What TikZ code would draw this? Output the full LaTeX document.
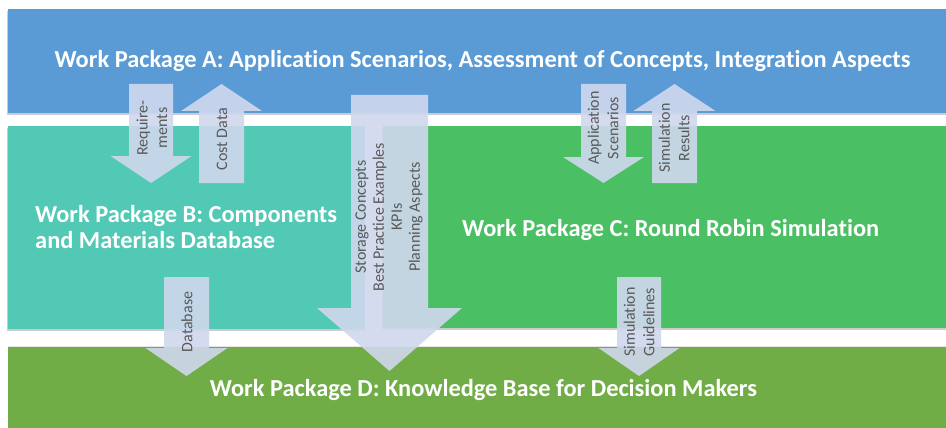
\documentclass[tikz,border=0pt]{standalone}
\usepackage{fontspec}
\setmainfont[Ligatures=NoCommon]{Carlito}
\definecolor{cA}{RGB}{91,155,213}
\definecolor{cB}{RGB}{82,201,181}
\definecolor{cC}{RGB}{75,191,99}
\definecolor{cD}{RGB}{112,173,71}
\definecolor{arrfill}{RGB}{208,216,238}
\definecolor{labgray}{RGB}{89,89,89}
\newcommand\wpblockarrow[6]{\fill[blockarr] ({#1-#5},#2) -- ({#1+#5},#2) -- ({#1+#5},#3) -- ({#1+#6},#3) -- (#1,#4) -- ({#1-#6},#3) -- ({#1-#5},#3) -- cycle;}
\begin{document}
\begin{tikzpicture}[x=1pt,y=-1pt]
\tikzset{
 band/.style={draw=none, inner sep=0pt, outer sep=0pt, anchor=north west},
 bandshadow/.style={fill=black!20},
 blockarr/.style={fill=arrfill, fill opacity=0.9, draw=none},
 wptext/.style={text=white, font=\bfseries\fontsize{24.4}{26}\selectfont, inner sep=0pt},
 arrlabel/.style={text=labgray, font=\fontsize{16}{19.5}\selectfont, rotate=90, align=center, inner sep=0pt},
}
\useasboundingbox (0,0) rectangle (946,428);
\fill[white] (0,0) rectangle (946,428);
% shadows
\fill[bandshadow] (7,11) rectangle (946,115.5);
\fill[bandshadow] (7,128) rectangle (365,330.5);
\fill[bandshadow] (382,128) rectangle (946,330);
\fill[black!10] (8,345.5) rectangle (946,347);
% bands
\node[band, fill=cA, minimum width=938pt, minimum height=104pt] (wpA) at (8,9) {};
\node[band, fill=cB, minimum width=357pt, minimum height=203pt] (wpB) at (8,126) {};
\node[band, fill=cC, minimum width=563pt, minimum height=202pt] (wpC) at (383,126) {};
\node[band, fill=cD, minimum width=938pt, minimum height=81pt] (wpD) at (8,347) {};
% block arrows
\wpblockarrow{151}{84}{156}{183}{22}{40.5}
\wpblockarrow{221.5}{183}{111}{84}{22.5}{40.5}
\wpblockarrow{603.5}{84}{157}{183}{22.5}{40.5}
\wpblockarrow{674.5}{183}{111}{84}{22.5}{41}
\wpblockarrow{186.5}{277}{348}{376}{22.5}{41}
\wpblockarrow{639}{277}{348}{376}{22}{40.5}
\wpblockarrow{389.5}{95}{308}{371}{38.5}{72.5}
% arrow labels
\node[arrlabel] (lreq) at (152,128) {Require-\\ments};
\node[arrlabel] (lcost) at (222,139) {Cost Data};
\node[arrlabel] (lapp) at (603,128) {Application\\Scenarios};
\node[arrlabel] (lsim) at (674,138) {Simulation\\Results};
\node[arrlabel] (ldb) at (187,322) {Database};
\node[arrlabel] (lguide) at (639,322) {Simulation\\Guidelines};
\node[arrlabel, font=\fontsize{16}{18}\selectfont] (lbig) at (389,217) {Storage Concepts\\Best Practice Examples\\KPIs\\Planning Aspects};
% band texts
\node[wptext, anchor=base] (tA) at (482.5,68) {Work Package A: Application Scenarios, Assessment of Concepts, Integration Aspects};
\node[wptext, anchor=base west, align=left] (tB) at (35,248.5) {Work Package B: Components\\and Materials Database};
\node[wptext, anchor=base west] (tC) at (462,236) {Work Package C: Round Robin Simulation};
\node[wptext, anchor=base] (tD) at (483.5,396) {Work Package D: Knowledge Base for Decision Makers};
\end{tikzpicture}
\end{document}
